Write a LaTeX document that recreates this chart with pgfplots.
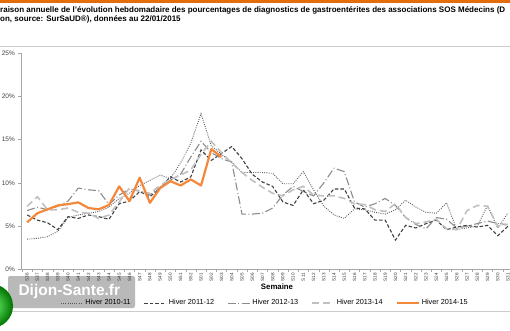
\documentclass[border=0pt]{standalone}
\usepackage{pgfplots}
\pgfplotsset{compat=1.18}
\usepackage{pgfplotstable}
\usepackage{fontspec}
\setmainfont{Liberation Sans}
\definecolor{orgbar}{HTML}{E46C0A}
\definecolor{orgline}{HTML}{F5873A}
\definecolor{cA}{HTML}{595959}
\definecolor{cB}{HTML}{404040}
\definecolor{cC}{HTML}{8C8C8C}
\definecolor{cD}{HTML}{C0C0C0}
\definecolor{axgray}{HTML}{A6A6A6}

\pgfplotstableread{
i a b c d
0 3.5 6.3 6.8 7.3
1 3.6 5.7 7.2 8.4
2 3.8 5.4 6.9 6.9
3 4.4 4.6 7.3 6.9
4 6.0 6.1 7.9 7.1
5 6.3 5.9 9.4 6.6
6 6.5 6.3 9.2 6.5
7 6.7 6.1 9.1 5.9
8 7.2 5.8 7.5 6.3
9 8.2 7.6 8.6 7.8
10 8.8 7.9 9.3 9.4
11 9.7 9.0 9.1 9.0
12 10.3 8.4 8.6 8.8
13 10.9 9.4 9.5 9.7
14 10.5 10.7 10.3 10.4
15 12.3 10.1 11.0 10.9
16 14.6 10.7 13.0 11.5
17 18.0 13.8 14.8 13.3
18 14.3 12.6 13.5 14.8
19 13.3 13.4 12.8 13.5
20 12.4 14.2 12.4 12.3
21 11.2 12.8 6.4 11.2
22 11.2 11.0 6.4 10.3
23 11.2 10.1 6.5 9.5
24 11.1 9.6 7.1 8.8
25 9.9 7.8 8.6 8.5
26 9.9 7.4 9.6 9.2
27 11.3 9.2 9.0 9.6
28 9.2 7.6 8.5 8.6
29 7.3 8.0 10.0 8.5
30 6.3 9.3 11.7 8.5
31 5.9 9.3 11.3 8.2
32 7.0 7.1 7.8 7.6
33 6.9 7.0 7.2 7.5
34 6.6 5.7 7.6 6.9
35 6.4 5.7 8.2 6.7
36 6.9 3.4 7.4 7.6
37 8.0 5.1 6.0 6.0
38 7.2 4.8 5.2 5.3
39 6.6 5.3 4.7 5.5
40 6.5 5.7 6.0 5.8
41 7.7 4.6 5.8 4.7
42 4.6 4.9 4.8 4.6
43 4.8 5.1 5.0 6.8
44 5.0 4.9 5.3 7.4
45 7.4 5.1 5.6 7.3
46 4.8 3.9 5.3 5.0
47 6.5 5.0 5.2 5.2
}\datatab

\pgfplotstableread{
i e
0 5.45
1 6.5
2 6.95
3 7.4
4 7.55
5 7.75
6 7.1
7 6.95
8 7.45
9 9.6
10 7.9
11 10.6
12 7.7
13 9.4
14 10.2
15 9.7
16 10.4
17 9.7
18 13.9
19 13.0
}\orangetab

\begin{document}
\begin{tikzpicture}[x=1pt,y=1pt]
\fill[orgbar] (0,326.5) rectangle (510,330);
\node[anchor=base west, inner sep=0pt, font=\bfseries\fontsize{8}{9}\selectfont] at (0,317.2)
  {raison annuelle de l'évolution hebdomadaire des pourcentages de diagnostics de gastroentérites des associations SOS Médecins (D};
\node[anchor=base west, inner sep=0pt, font=\bfseries\fontsize{8}{9}\selectfont] at (0,308.0)
  {on, source: SurSaUD\textregistered), données au 22/01/2015};
\draw[gray!40, line width=0.9pt] (0,284) -- (510,284);
\draw[gray!40, line width=0.9pt] (0,19) -- (510,19);

% watermark (behind the chart texts)
\fill[gray!55, rounded corners=2pt] (8,22) rectangle (135,54);
\node[anchor=west, text=white, font=\bfseries\fontsize{15.5}{16}\selectfont] at (15,38.5) {Dijon-Sante.fr};
\shade[inner color=green!55!white, outer color=green!45!black] (-9,24) circle (22pt);

\begin{axis}[
  at={(21pt,60.5pt)}, anchor=south west, scale only axis,
  width=502.3pt, height=216.5pt,
  xmin=-0.6, xmax=48.5, ymin=0, ymax=25,
  axis x line*=bottom, axis y line*=left,
  axis line style={axgray, line width=0.6pt},
  clip=false,
  xtick={0,...,47},
  xticklabels={S36,S37,S38,S39,S40,S41,S42,S43,S44,S45,S46,S47,S48,S49,S50,S51,S52,S01,S02,S03,S04,S05,S06,S07,S08,S09,S10,S11,S12,S13,S14,S15,S16,S17,S18,S19,S20,S21,S22,S23,S24,S25,S26,S27,S28,S29,S30,S31},
  xticklabel style={rotate=90, anchor=east, inner sep=1pt, font=\fontsize{4.6}{5}\selectfont, text=black!80},
  major x tick style={draw=none},
  minor xtick={-0.5,0.5,...,47.5},
  minor x tick style={axgray, line width=0.4pt},
  minor tick length=2pt,
  ytick={0,5,...,25},
  yticklabel={\pgfmathprintnumber{\tick}\%},
  yticklabel style={anchor=east, inner sep=0pt, xshift=-3.5pt, font=\fontsize{6.5}{8}\selectfont, text=black!75},
  major y tick style={axgray, line width=0.6pt},
  major tick length=2.5pt,
  tick align=outside,
  /pgf/number format/assume math mode=true,
  legend columns=5,
  legend style={at={(0.486,-0.155)}, anchor=center, draw=none, fill=none,
    font=\fontsize{7.3}{8}\selectfont, inner sep=0pt,
    /tikz/every even column/.append style={column sep=11pt}},
  legend image code/.code={\draw[#1] (0pt,0pt) -- (22pt,0pt);},
]
\addplot[cA, line width=0.9pt, dash pattern=on 0.9pt off 1.3pt] table[x=i,y=a] {\datatab};
\addlegendentry{Hiver 2010-11}
\addplot[cB, line width=1.1pt, dash pattern=on 3.5pt off 2pt] table[x=i,y=b] {\datatab};
\addlegendentry{Hiver 2011-12}
\addplot[cC, line width=1.1pt, dash pattern=on 8pt off 2.5pt on 1pt off 2.5pt] table[x=i,y=c] {\datatab};
\addlegendentry{Hiver 2012-13}
\addplot[cD, line width=1.6pt, dash pattern=on 7pt off 4pt] table[x=i,y=d] {\datatab};
\addlegendentry{Hiver 2013-14}
\addplot[orgline, line width=2.2pt, line join=round] table[x=i,y=e] {\orangetab};
\addlegendentry{Hiver 2014-15}
\end{axis}

\node[font=\bfseries\fontsize{7.8}{9}\selectfont, anchor=base] at (277,40.5) {Semaine};

\pgfresetboundingbox
\path[use as bounding box] (0,0) rectangle (510,330);
\end{tikzpicture}
\end{document}
